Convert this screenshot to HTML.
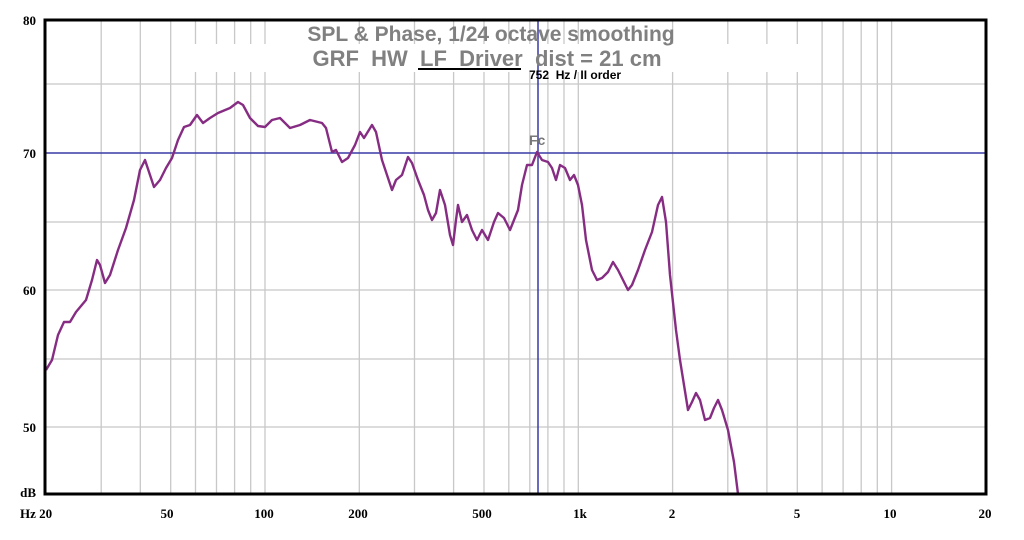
<!DOCTYPE html>
<html><head><meta charset="utf-8"><style>
body{margin:0;background:#fff;width:1024px;height:540px;overflow:hidden}
svg{display:block}
text{white-space:pre}
</style></head><body>
<svg id="s" width="1024" height="540" xmlns="http://www.w3.org/2000/svg" font-family="Liberation Serif, serif" xml:space="preserve">
<g id="grid"></g>
<rect x="190" y="44" width="610" height="28" fill="#fff"/>
<line x1="46" y1="153" x2="986" y2="153" stroke="#3a3aa8" stroke-width="1.5"/>
<line x1="538" y1="20" x2="538" y2="494" stroke="#3a3aa8" stroke-width="1.5"/>
<polyline id="c" fill="none" stroke="#862d83" stroke-width="2.4" stroke-linejoin="round"/>
<rect x="45" y="20" width="941" height="474" fill="none" stroke="#000" stroke-width="3"/>
<g font-family="Liberation Sans, sans-serif" font-weight="bold" font-size="21" fill="#808080" text-anchor="middle">
<text x="491" y="41">SPL &amp; Phase, 1/24 octave smoothing</text>
<text x="487" y="66" font-size="22">GRF  HW  LF  Driver  dist = 21 cm</text>
</g>
<line x1="418" y1="69" x2="521" y2="69" stroke="#000" stroke-width="2"/>
<text x="529" y="79" font-family="Liberation Sans, sans-serif" font-weight="bold" font-size="12" fill="#000">752  Hz / II order</text>
<text x="529" y="145" font-family="Liberation Sans, sans-serif" font-weight="bold" font-size="14" fill="#777">Fc</text>
<g font-weight="bold" font-size="13" fill="#000">
<text x="36" y="25" text-anchor="end">80</text>
<text x="36" y="158" text-anchor="end">70</text>
<text x="36" y="295" text-anchor="end">60</text>
<text x="36" y="432" text-anchor="end">50</text>
<text x="36" y="497" text-anchor="end">dB</text>
<text x="20" y="518">Hz 20</text>
<g text-anchor="middle">
<text x="167" y="518">50</text><text x="264" y="518">100</text><text x="358" y="518">200</text>
<text x="482" y="518">500</text><text x="580" y="518">1k</text><text x="672" y="518">2</text>
<text x="797" y="518">5</text><text x="890" y="518">10</text><text x="985" y="518">20</text>
</g></g>
</svg>
<script>
var g=document.getElementById('grid'),h='';
function X(f){return 46+313.3*Math.log10(f/20);}
var fs=[];for(var f=30;f<100;f+=10)fs.push(f);for(f=100;f<1000;f+=100)fs.push(f);for(f=1000;f<10000;f+=1000)fs.push(f);for(f=10000;f<20000;f+=10000)fs.push(f);
fs.forEach(function(f){var x=X(f).toFixed(1);h+='<line x1="'+x+'" y1="20" x2="'+x+'" y2="494" stroke="#c8c8c8" stroke-width="1.3"/>';});
[84,222,290,359,427].forEach(function(y){h+='<line x1="46" y1="'+y+'" x2="986" y2="'+y+'" stroke="#c8c8c8" stroke-width="1.3"/>';});
g.innerHTML=h;
var p=[[46,370],[52,360],[58,335],[64,322],[70,322],[76,312],[86,300],[92,280],[97,260],[100,265],[105,283],[110,275],[118,250],[126,228],[134,200],[140,170],[145,160],[150,175],[154,187],[160,180],[166,168],[172,158],[178,140],[184,127],[190,125],[197,115],[203,123],[210,118],[218,113],[230,108],[238,102],[243,105],[250,118],[258,126],[265,127],[272,120],[280,118],[290,128],[300,125],[310,120],[322,123],[326,128],[332,152],[336,150],[342,162],[348,158],[355,145],[360,132],[364,138],[372,125],[376,132],[382,160],[388,178],[392,190],[396,180],[402,175],[408,157],[412,163],[418,180],[424,195],[428,210],[432,220],[436,213],[440,190],[445,205],[450,235],[453,245],[456,220],[458,205],[462,222],[467,215],[472,230],[477,240],[482,230],[488,240],[494,222],[498,213],[504,218],[510,230],[514,220],[518,210],[522,185],[527,165],[532,165],[537,152],[542,160],[548,162],[552,168],[556,180],[560,165],[565,168],[570,180],[574,175],[578,185],[582,205],[586,240],[592,270],[597,280],[602,278],[608,272],[613,262],[618,270],[624,282],[628,290],[632,285],[638,270],[645,250],[652,232],[658,205],[662,197],[666,222],[670,275],[676,330],[680,360],[684,385],[688,410],[692,402],[696,393],[700,400],[705,420],[710,418],[714,408],[718,400],[722,410],[728,430],[734,462],[738,494]];
document.getElementById('c').setAttribute('points',p.map(function(q){return q.join(',')}).join(' '));
</script>
</body></html>
